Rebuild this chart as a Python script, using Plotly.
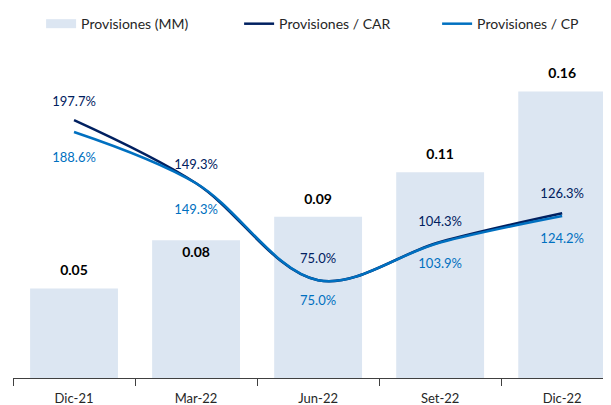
import plotly.graph_objects as go

categories = ["Dic-21", "Mar-22", "Jun-22", "Set-22", "Dic-22"]
provisiones_mm = [0.05, 0.077, 0.09, 0.1149, 0.16]
prov_car = [197.7, 149.3, 75.0, 104.3, 126.3]
prov_cp = [188.6, 149.3, 75.0, 103.9, 124.2]

BAR_C = "#dce6f2"
CAR_C = "#002060"
CP_C = "#0070c0"
FONT = "Lato"
CLEAR = "rgba(0,0,0,0)"

x = list(range(len(categories)))

fig = go.Figure()

fig.add_trace(go.Bar(
    x=x, y=provisiones_mm, marker=dict(color=BAR_C, line=dict(width=0)),
    width=0.72, showlegend=False, hoverinfo="skip",
))
# bar value labels (Mar-22 sits just inside the bar top, as in the original)
fig.add_trace(go.Scatter(
    x=x, y=provisiones_mm, mode="markers+text", texttemplate="%{y:.2f}",
    textposition=["top center", "bottom center", "top center", "top center", "top center"],
    marker=dict(size=[14, 8, 14, 14, 14], color=CLEAR, line=dict(width=0)),
    textfont=dict(family=FONT, size=14, color="#000000", weight="bold"),
    showlegend=False, hoverinfo="skip",
))
# legend proxy for bars
fig.add_trace(go.Scatter(
    x=[None], y=[None], mode="lines", name="Provisiones (MM)",
    line=dict(color=BAR_C, width=9),
))
fig.add_trace(go.Scatter(
    x=x, y=prov_car, yaxis="y2", mode="lines+markers+text", name="Provisiones / CAR",
    line=dict(color=CAR_C, width=2.5, shape="spline", smoothing=1),
    texttemplate="%{y:.1f}%", textposition="top center",
    marker=dict(size=[16, 16, 20, 18, 18], color=CLEAR, line=dict(width=0, color=CLEAR)),
    textfont=dict(family=FONT, size=13, color=CAR_C),
))
fig.add_trace(go.Scatter(
    x=x, y=prov_cp, yaxis="y2", mode="lines+markers+text", name="Provisiones / CP",
    line=dict(color=CP_C, width=2.5, shape="spline", smoothing=1),
    texttemplate="%{y:.1f}%", textposition="bottom center",
    marker=dict(size=[30, 32, 22, 24, 26], color=CLEAR, line=dict(width=0, color=CLEAR)),
    textfont=dict(family=FONT, size=13, color=CP_C),
))

fig.update_layout(
    width=603, height=397,
    margin=dict(l=5, r=0, t=42, b=27, autoexpand=False),
    paper_bgcolor="white", plot_bgcolor="white",
    font=dict(family=FONT, size=13, color="#262626"),
    showlegend=True,
    legend=dict(orientation="h", x=0.047, xanchor="left", y=1.079, yanchor="middle",
                entrywidth=153, font=dict(family=FONT, size=14, color="#262626"),
                itemwidth=30, bgcolor="rgba(0,0,0,0)"),
    xaxis=dict(
        range=[-0.5, 4.40], tickmode="array", tickvals=x, ticktext=categories,
        ticks="outside", ticklen=8, tickcolor=CLEAR, automargin=False,
        showline=True, linecolor="#404040", linewidth=1, showgrid=False, zeroline=False,
        tickfont=dict(family=FONT, size=13, color="#262626"),
        minor=dict(tickmode="array", tickvals=[-0.5, 0.5, 1.5, 2.5, 3.5, 4.5],
                   ticks="outside", ticklen=7, tickcolor="#404040", tickwidth=1, showgrid=False),
    ),
    yaxis=dict(range=[0, 0.1832], visible=False, showgrid=False, zeroline=False),
    yaxis2=dict(range=[0, 251.5], overlaying="y", visible=False, showgrid=False, zeroline=False),
    bargap=0.28,
)

fig.write_html("out.html")
